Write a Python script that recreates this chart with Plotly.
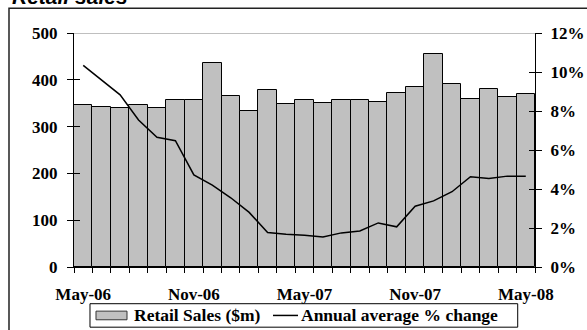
import plotly.graph_objects as go

# Monthly retail sales ($m) and annual average % change, May-06 to May-08
months = ["May-06", "Jun-06", "Jul-06", "Aug-06", "Sep-06", "Oct-06", "Nov-06",
          "Dec-06", "Jan-07", "Feb-07", "Mar-07", "Apr-07", "May-07", "Jun-07",
          "Jul-07", "Aug-07", "Sep-07", "Oct-07", "Nov-07", "Dec-07", "Jan-08",
          "Feb-08", "Mar-08", "Apr-08", "May-08"]
retail_sales = [346, 341, 340, 347, 339, 356, 357, 436, 365, 333, 378, 349, 357,
                350, 357, 357, 352, 372, 384, 455, 392, 360, 380, 364, 370]
annual_avg_change = [10.34, 9.59, 8.83, 7.54, 6.65, 6.48, 4.72, 4.20, 3.55, 2.80,
                     1.77, 1.68, 1.63, 1.54, 1.75, 1.85, 2.26, 2.06, 3.12, 3.39,
                     3.86, 4.63, 4.54, 4.66, 4.66]
x_labels = ["May-06", "Nov-06", "May-07", "Nov-07", "May-08"]
left_ticks = [0, 100, 200, 300, 400, 500]
right_ticks = [0, 2, 4, 6, 8, 10, 12]
right_tick_text = ["0%", "2%", "4%", "6%", "8%", "10%", "12%"]
series_names = ["Retail Sales ($m)", "Annual average % change"]

BAR_COLOR = "#C0C0C0"
tick_font = dict(family="Liberation Serif", size=17, color="black", weight="bold")
key_font = dict(family="Liberation Serif", size=17.5, color="black", weight="bold")

fig = go.Figure()
fig.add_trace(go.Bar(
    x=months, y=retail_sales, name=series_names[0],
    marker=dict(color=BAR_COLOR, line=dict(color="black", width=1)),
    xaxis="x", yaxis="y", showlegend=False,
))
fig.add_trace(go.Scatter(
    x=months, y=annual_avg_change, name=series_names[1],
    mode="lines", line=dict(color="black", width=1.5),
    xaxis="x2", yaxis="y2", showlegend=False,
))
# empty traces so the inward tick axes (giving crossing tick marks) get drawn
for ax in ("y3", "y4"):
    fig.add_trace(go.Scatter(x=[], y=[], xaxis="x", yaxis=ax, showlegend=False,
                             hoverinfo="skip", mode="lines"))

cat_range = [-0.5, len(months) - 0.5]

# compact boxed key below the axis
key_y = -0.207
shapes = [
    # top gridline at 500
    dict(type="line", xref="paper", yref="y", x0=0, x1=1, y0=500, y1=500,
         line=dict(color="#808080", width=1), layer="below"),
    # chart frame
    dict(type="rect", xref="paper", yref="paper", x0=-0.141, x1=1.3,
         y0=-0.5, y1=1.106, line=dict(color="#222222", width=1.5),
         layer="below"),
    # key box
    dict(type="rect", xref="paper", yref="paper", x0=0.0347, x1=0.9625,
         y0=-0.2572, y1=-0.1569, line=dict(color="black", width=1),
         fillcolor="white", layer="above"),
    # bar swatch
    dict(type="rect", xref="paper", yref="paper", x0=0.0477, x1=0.115,
         y0=-0.2255, y1=-0.1886, line=dict(color="#333333", width=1),
         fillcolor=BAR_COLOR, layer="above"),
    # line swatch
    dict(type="line", xref="paper", yref="paper", x0=0.4317, x1=0.4859,
         y0=key_y, y1=key_y, line=dict(color="black", width=1.5),
         layer="above"),
]

annotations = [
    dict(text="<b><i>Retail sales</i></b>", xref="paper", yref="paper",
         x=-0.1388, y=1.100, xanchor="left", yanchor="bottom",
         showarrow=False,
         font=dict(family="Liberation Sans", size=21, color="black")),
    dict(text=series_names[0], xref="paper", yref="paper", x=0.126, y=key_y,
         xanchor="left", yanchor="middle", showarrow=False, font=key_font),
    dict(text=series_names[1], xref="paper", yref="paper", x=0.489, y=key_y,
         xanchor="left", yanchor="middle", showarrow=False, font=key_font),
]

fig.update_layout(
    width=587, height=330,
    margin=dict(l=74, r=52, t=33, b=63, autoexpand=False),
    paper_bgcolor="white", plot_bgcolor="white",
    bargap=0,
    showlegend=False,
    xaxis=dict(
        type="category", categoryarray=months, categoryorder="array",
        range=cat_range, tickmode="array", tickvals=x_labels, ticktext=x_labels,
        ticks="", showgrid=False, showline=True, linecolor="black", linewidth=1,
        tickfont=tick_font, ticklabelstandoff=12, zeroline=False,
    ),
    xaxis2=dict(
        type="category", categoryarray=months, categoryorder="array",
        overlaying="x", anchor="y2", side="bottom", range=cat_range,
        tickmode="linear", tick0=0, dtick=1, tickson="boundaries",
        ticks="outside", ticklen=5, tickcolor="black", tickwidth=1,
        showticklabels=False, showgrid=False, showline=False, zeroline=False,
    ),
    yaxis=dict(
        range=[0, 500], tickmode="array", tickvals=left_ticks,
        ticks="outside", ticklen=6, tickcolor="black", tickwidth=1,
        showline=True, linecolor="black", linewidth=1, showgrid=False,
        zeroline=False, tickfont=tick_font, ticklabelstandoff=6,
    ),
    yaxis3=dict(
        range=[0, 500], overlaying="y", anchor="x", side="left",
        tickmode="array", tickvals=left_ticks, ticks="inside", ticklen=6,
        tickcolor="black", tickwidth=1, showticklabels=False,
        showline=False, showgrid=False, zeroline=False,
    ),
    yaxis2=dict(
        range=[0, 12], overlaying="y", anchor="x", side="right",
        tickmode="array", tickvals=right_ticks, ticktext=right_tick_text,
        ticks="outside", ticklen=6, tickcolor="black", tickwidth=1,
        showline=True, linecolor="black", linewidth=1, showgrid=False,
        zeroline=False, tickfont=tick_font, ticklabelstandoff=5,
    ),
    yaxis4=dict(
        range=[0, 12], overlaying="y", anchor="x", side="right",
        tickmode="array", tickvals=right_ticks, ticks="inside", ticklen=6,
        tickcolor="black", tickwidth=1, showticklabels=False,
        showline=False, showgrid=False, zeroline=False,
    ),
    shapes=shapes,
    annotations=annotations,
)

fig.write_html("out.html")
